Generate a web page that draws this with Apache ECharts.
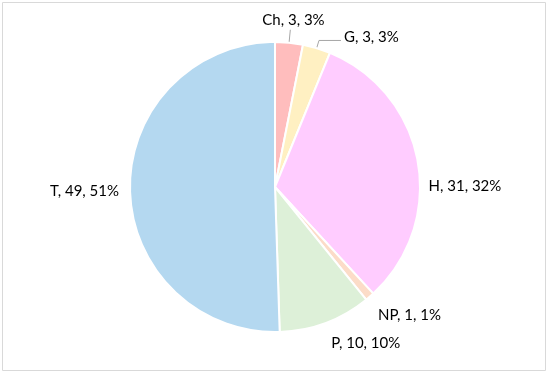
<!DOCTYPE html>
<html>
<head>
<meta charset="utf-8">
<script src="https://cdn.jsdelivr.net/npm/echarts@6/dist/echarts.min.js"></script>
<style>html,body{margin:0;padding:0;background:#fff}#c{width:550px;height:375px}</style>
</head>
<body>
<div id="c"></div>
<script>
const categories = ['Ch', 'G', 'H', 'NP', 'P', 'T'];
const values = [3, 3, 31, 1, 10, 49];
const colors = ['#FFBDBD', '#FFF0C2', '#FFCCFF', '#FCDCC8', '#DDF0D8', '#B4D8F0'];

// per-slice label tweaks (leader line on/off, lengths, nudges)
const labelCfg = [
  {line: true,  len: 13, len2: 0,  dx: -31, dy: -10},
  {line: true,  len: 8,  len2: 22, dx: 0,   dy: -3},
  {line: false, len: 8,  len2: 0,  dx: 0,   dy: 26},
  {line: false, len: 8,  len2: 0,  dx: 0,   dy: 12},
  {line: false, len: 8,  len2: 0,  dx: 0,   dy: 13},
  {line: false, len: 8,  len2: 0,  dx: 0,   dy: 2}
];

const data = categories.map((n, i) => ({
  name: n,
  value: values[i],
  itemStyle: {color: colors[i]},
  labelLine: {show: labelCfg[i].line, length: labelCfg[i].len, length2: labelCfg[i].len2,
              lineStyle: {color: '#A6A6A6', width: 1}}
}));

const chart = echarts.init(document.getElementById('c'), null, {renderer: 'canvas'});
chart.setOption({
  animation: false,
  graphic: [{
    type: 'rect', shape: {x: 2.5, y: 2.5, width: 543, height: 368},
    style: {fill: 'none', stroke: '#D9D9D9', lineWidth: 1}, silent: true, z: -1
  }],
  series: [{
    type: 'pie',
    center: [275, 187],
    radius: 145,
    startAngle: 90,
    clockwise: true,
    percentPrecision: 0,
    avoidLabelOverlap: false,
    itemStyle: {borderColor: '#fff', borderWidth: 2},
    label: {
      show: true, position: 'outside',
      formatter: '{b}, {c}, {d}%',
      fontFamily: 'Lato', fontSize: 15, color: '#000',
      distanceToLabelLine: 3
    },
    emphasis: {disabled: true},
    labelLayout: function (p) {
      const c = labelCfg[p.dataIndex];
      return {dx: c.dx, dy: c.dy};
    },
    data: data
  }]
});
</script>
</body>
</html>
